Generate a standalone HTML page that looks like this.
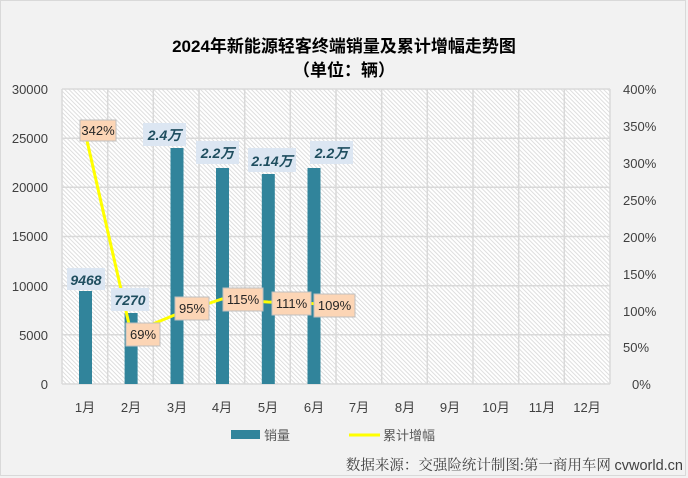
<!DOCTYPE html>
<html><head><meta charset="utf-8"><style>
html,body{margin:0;padding:0;background:#fff;}
svg{display:block;font-family:"Liberation Sans","Noto Sans CJK SC",sans-serif;}
</style></head><body>
<svg width="688" height="478" viewBox="0 0 688 478" xmlns="http://www.w3.org/2000/svg">
<defs>
<pattern id="h" width="3" height="3" patternUnits="userSpaceOnUse" patternTransform="rotate(-45)">
<rect width="3" height="3" fill="#ffffff"/><rect width="1" height="3" fill="#dedede"/>
</pattern>
</defs>
<rect x="0" y="0" width="688" height="478" fill="#f2f2f2"/>
<rect x="0.5" y="0.5" width="685" height="475" fill="none" stroke="#d9d9d9"/>
<text x="344" y="52" text-anchor="middle" font-size="17" font-weight="bold" fill="#000">2024年新能源轻客终端销量及累计增幅走势图</text>
<text x="344" y="76" text-anchor="middle" font-size="17" font-weight="bold" fill="#000">（单位：辆）</text>
<rect x="62" y="89" width="548" height="295" fill="url(#h)"/>
<g stroke="#d9d9d9" stroke-width="1.5">
<line x1="62" y1="89" x2="610" y2="89"/><line x1="62" y1="138.2" x2="610" y2="138.2"/>
<line x1="62" y1="187.3" x2="610" y2="187.3"/><line x1="62" y1="236.5" x2="610" y2="236.5"/>
<line x1="62" y1="285.7" x2="610" y2="285.7"/><line x1="62" y1="334.8" x2="610" y2="334.8"/>
<line x1="62" y1="384" x2="610" y2="384"/>
<line x1="62" y1="89" x2="62" y2="384"/><line x1="107.7" y1="89" x2="107.7" y2="384"/>
<line x1="153.3" y1="89" x2="153.3" y2="384"/><line x1="199" y1="89" x2="199" y2="384"/>
<line x1="244.7" y1="89" x2="244.7" y2="384"/><line x1="290.3" y1="89" x2="290.3" y2="384"/>
<line x1="336" y1="89" x2="336" y2="384"/><line x1="381.7" y1="89" x2="381.7" y2="384"/>
<line x1="427.3" y1="89" x2="427.3" y2="384"/><line x1="473" y1="89" x2="473" y2="384"/>
<line x1="518.7" y1="89" x2="518.7" y2="384"/><line x1="564.3" y1="89" x2="564.3" y2="384"/>
<line x1="610" y1="89" x2="610" y2="384"/>
</g>
<g fill="#31849b">
<rect x="79" y="291" width="13" height="93"/>
<rect x="124.6" y="313" width="13" height="71"/>
<rect x="170.5" y="148" width="13" height="236"/>
<rect x="216" y="168" width="13" height="216"/>
<rect x="261.8" y="174" width="13" height="210"/>
<rect x="307.5" y="168" width="13" height="216"/>
</g>
<polyline points="85,132 131,333 177,314 222,299 268,302 314,303.6" fill="none" stroke="#ffff00" stroke-width="3"/>
<g font-size="13" fill="#404040" text-anchor="end">
<text x="48" y="94">30000</text><text x="48" y="143">25000</text><text x="48" y="192">20000</text>
<text x="48" y="241">15000</text><text x="48" y="291">10000</text><text x="48" y="340">5000</text><text x="48" y="389">0</text>
</g>
<g font-size="13" fill="#404040" text-anchor="start">
<text x="623" y="94">400%</text><text x="623" y="131">350%</text><text x="623" y="168">300%</text>
<text x="623" y="205">250%</text><text x="623" y="242">200%</text><text x="623" y="279">150%</text>
<text x="623" y="316">100%</text><text x="623" y="352">50%</text><text x="632" y="389">0%</text>
</g>
<g font-size="13" fill="#404040" text-anchor="middle">
<text x="85" y="412">1月</text><text x="131" y="412">2月</text><text x="177" y="412">3月</text>
<text x="222" y="412">4月</text><text x="268" y="412">5月</text><text x="314" y="412">6月</text>
<text x="359" y="412">7月</text><text x="405" y="412">8月</text><text x="450" y="412">9月</text>
<text x="496" y="412">10月</text><text x="542" y="412">11月</text><text x="587" y="412">12月</text>
</g>
<g fill="#dce6f2">
<rect x="67" y="268" width="38" height="22"/>
<rect x="111" y="288" width="38" height="23"/>
<rect x="143" y="123" width="43" height="23"/>
<rect x="196" y="141" width="43" height="23"/>
<rect x="248" y="148" width="48" height="24"/>
<rect x="310" y="141" width="43" height="23"/>
</g>
<g font-size="14" font-weight="bold" font-style="italic" fill="#1f4e5f" text-anchor="middle">
<text x="86" y="285">9468</text><text x="130" y="305">7270</text>
<text x="164.5" y="140">2.4万</text><text x="217.5" y="158">2.2万</text>
<text x="272" y="166">2.14万</text><text x="331.5" y="158">2.2万</text>
</g>
<g fill="#fcd5b5" stroke="#bfbfbf">
<rect x="80" y="120" width="36" height="21"/>
<rect x="126" y="323" width="34" height="23"/>
<rect x="175" y="297" width="34" height="23"/>
<rect x="223" y="288" width="40" height="23"/>
<rect x="272" y="292" width="39" height="23"/>
<rect x="314" y="294" width="41" height="23"/>
</g>
<g font-size="13" fill="#262626" text-anchor="middle">
<text x="98" y="135">342%</text><text x="143" y="339">69%</text><text x="192" y="313">95%</text>
<text x="243" y="304">115%</text><text x="291.5" y="308">111%</text><text x="334.5" y="310">109%</text>
</g>
<rect x="231" y="430" width="29" height="9" fill="#31849b"/>
<text x="264" y="440" font-size="13" fill="#595959">销量</text>
<line x1="349" y1="435" x2="380" y2="435" stroke="#ffff00" stroke-width="3"/>
<text x="383" y="440" font-size="13" fill="#595959">累计增幅</text>
<text x="683" y="470" text-anchor="end" font-size="14.5" fill="#404040" font-family="'Liberation Serif','Noto Serif CJK SC',serif">数据来源：交强险统计制图:第一商用车网 <tspan font-family="'Liberation Sans',sans-serif">cvworld.cn</tspan></text>
</svg>
</body></html>
